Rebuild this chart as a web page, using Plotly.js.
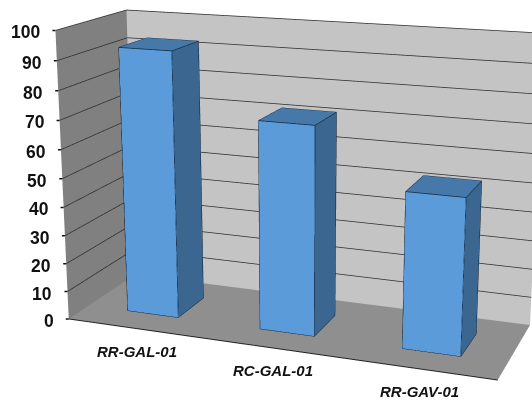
<!DOCTYPE html>
<html><head><meta charset="utf-8">
<script src="https://cdn.plot.ly/plotly-3.0.1.min.js"></script>
<style>html,body{margin:0;padding:0;width:532px;height:401px;overflow:hidden;background:#fff}
#c{position:absolute;left:-274px;top:-391px;width:1144px;height:1144px}</style>
</head><body><div id="c"></div>
<script>
const categories=['RR-GAL-01','RC-GAL-01','RR-GAV-01'];
const values=[93,72,53];
const zTicks=[0,10,20,30,40,50,60,70,80,90,100];
const categoryLabelShift=[3,2,0];
const barHalf=0.195, depth0=0.29, depth1=0.71;
const cFront='#5b9bd9', cSide='#3b668f', cTop='#4679a9';
const traces=[];
// gridlines on the two walls
const gx=[],gy=[],gz=[];
zTicks.filter(t=>t>0).forEach(t=>{gx.push(0,0,3,null);gy.push(0,1,1,null);gz.push(t,t,t,null);});
traces.push({type:'scatter3d',mode:'lines',x:gx,y:gy,z:gz,line:{color:'#333',width:1.6},hoverinfo:'skip',showlegend:false});
const ex=[],ey=[],ez=[];
values.forEach((v,i)=>{
  const c=i+0.5,x0=c-barHalf,x1=c+barHalf,y0=depth0,y1=depth1;
  const X=[x0,x1,x1,x0,x0,x1,x1,x0],Y=[y0,y0,y1,y1,y0,y0,y1,y1],Z=[0,0,0,0,v,v,v,v];
  const faces=[[0,1,5,cFront],[0,5,4,cFront],[1,2,6,cSide],[1,6,5,cSide],[4,5,6,cTop],[4,6,7,cTop]];
  traces.push({type:'mesh3d',x:X,y:Y,z:Z,i:faces.map(f=>f[0]),j:faces.map(f=>f[1]),k:faces.map(f=>f[2]),
    facecolor:faces.map(f=>f[3]),flatshading:true,lighting:{ambient:1,diffuse:0,specular:0,roughness:1,fresnel:0},hoverinfo:'skip',showscale:false});
  [[0,1],[1,5],[5,4],[4,0],[1,2],[2,6],[6,5],[6,7],[7,4]].forEach(e=>{
    ex.push(X[e[0]],X[e[1]],null);ey.push(Y[e[0]],Y[e[1]],null);ez.push(Z[e[0]],Z[e[1]],null);
  });
});
traces.push({type:'scatter3d',mode:'lines',x:ex,y:ey,z:ez,line:{color:'#12263c',width:1.5},hoverinfo:'skip',showlegend:false});
const annotations=[];
zTicks.forEach(t=>{
  annotations.push({x:0,y:0,z:t,text:'<b>'+t+'</b>',showarrow:false,xanchor:'right',yanchor:'middle',xshift:-13,yshift:-2,
    font:{family:'Liberation Sans',size:17.5,color:'#111'}});
  annotations.push({x:0,y:0,z:t,text:' ',showarrow:true,arrowhead:0,arrowwidth:1.5,arrowcolor:'#111',ax:-6,ay:0,standoff:0});
});
categories.forEach((c,i)=>annotations.push({x:i+0.5,y:0,z:0,text:'<b><i>'+c+'</i></b>',showarrow:false,xanchor:'center',yanchor:'middle',xshift:categoryLabelShift[i],yshift:-23,
  font:{family:'Liberation Sans',size:15,color:'#111'}}));
[0,1,2,3].forEach(b=>annotations.push({x:b,y:0,z:0,text:' ',showarrow:true,arrowhead:0,arrowwidth:1.5,arrowcolor:'#111',ax:0,ay:5,standoff:0}));
const layout={width:1144,height:1144,margin:{l:0,r:0,t:0,b:0},paper_bgcolor:'#fff',showlegend:false,
 scene:{domain:{x:[0,1],y:[0,1]},aspectmode:'manual',aspectratio:{x:1,y:0.333,z:0.667},annotations:annotations,
  camera:{eye:{x:1.038,y:-2.772,z:0.801},center:{x:0,y:0,z:0},up:{x:0,y:0,z:1},projection:{type:'perspective'}},
  xaxis:{range:[0,3],tickmode:'array',tickvals:[0.5,1.5,2.5],showticklabels:false,showgrid:false,zeroline:false,showline:true,linecolor:'#222',linewidth:2,ticks:'',
    title:{text:''},showbackground:true,backgroundcolor:'#808080',showspikes:false},
  yaxis:{range:[0,1],showticklabels:false,showgrid:false,zeroline:false,showline:false,ticks:'',title:{text:''},showbackground:true,backgroundcolor:'#c4c4c4',showspikes:false},
  zaxis:{range:[0,100],tickmode:'array',tickvals:zTicks,showticklabels:false,showgrid:false,zeroline:false,showline:false,ticks:'',
    title:{text:''},showbackground:true,backgroundcolor:'#8f8f8f',showspikes:false}
 }};
Plotly.newPlot('c',traces,layout,{displayModeBar:false});
</script></body></html>
